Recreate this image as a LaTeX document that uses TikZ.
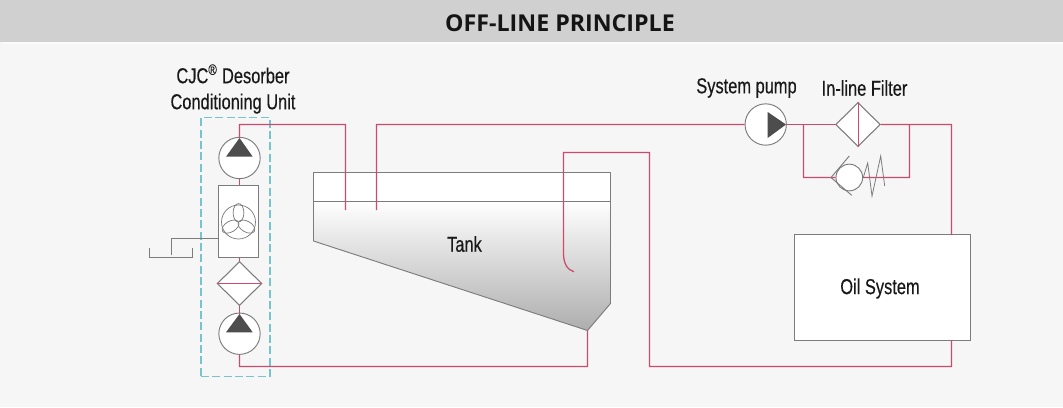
\documentclass[tikz,border=0pt]{standalone}
\usepackage{fontspec}
\usetikzlibrary{shapes.geometric,backgrounds}
\setmainfont{Liberation Sans}
\newfontfamily\labfont[FakeStretch=0.76,FakeBold=0.35]{Liberation Sans}
\newfontfamily\titlefont{Open Sans}
\definecolor{bgpanel}{HTML}{F6F6F6}
\definecolor{bghead}{HTML}{D0D0D0}
\definecolor{pipecol}{HTML}{CC4A6E}
\definecolor{edgecol}{HTML}{7C7C7C}
\definecolor{triangcol}{HTML}{4D4D4D}
\definecolor{dashcol}{HTML}{78C4CE}
\tikzset{
  pipe/.style={draw=pipecol,line width=0.95pt,rounded corners=0.1pt},
  thinpipe/.style={draw=pipecol,line width=0.6pt},
  edge/.style={draw=edgecol,line width=0.7pt},
  pumpbody/.style={circle,draw=edgecol,line width=0.7pt,fill=white,minimum size=31pt,inner sep=0pt},
  filterbody/.style={diamond,aspect=1,draw=edgecol,line width=0.8pt,fill=white,minimum width=33.5pt,minimum height=33pt,inner sep=0pt},
  valvebody/.style={circle,draw=edgecol,line width=0.7pt,fill=white,minimum size=20pt,inner sep=0pt},
  unitbox/.style={rectangle,draw=edgecol,line width=0.75pt,fill=white,inner sep=0pt},
  lab/.style={font=\labfont\fontsize{16.2}{19.5}\selectfont,text=black!90,align=center,inner sep=0pt},
  tri/.style={fill=triangcol,draw=none}
}
\begin{document}
\begin{tikzpicture}[x=0.75pt,y=-0.75pt]
\useasboundingbox (0,0) rectangle (1063,407);
\fill[bgpanel] (0,0) rectangle (1063,407);
\fill[bghead] (0,0) rectangle (1063,41.5);
\fill[white,opacity=.6] (2,42) rectangle (1063,44);
\node[inner sep=0pt,font=\titlefont\bfseries\fontsize{17.4}{20}\selectfont,text=black!92] (title) at (560,23) {OFF-LINE PRINCIPLE};

% CJC unit frame
\node[draw=dashcol,line width=0.9pt,dash pattern=on 6pt off 2.5pt,rectangle,minimum width=51.7pt,minimum height=193.7pt,inner sep=0pt] (frame) at (235.5,247) {};
\node[lab] (cjclabel) at (233,89) {CJC\textsuperscript{\textregistered} Desorber\\Conditioning Unit};

% tank
\fill[white] (313.5,172.5) rectangle (610.5,201);
\shade[top color=white,bottom color=black!32,shading angle=0] (313.5,201) -- (610.5,201) -- (610.5,303.5) -- (587.5,330.5) -- (313.5,241) -- cycle;
\draw[edge,line join=round] (313.5,172.5) -- (610.5,172.5) -- (610.5,303.5) -- (587.5,330.5) -- (313.5,241) -- cycle;
\draw[edge,line width=0.55pt] (313.5,201.5) -- (610.5,201.5);
\coordinate (tankOut) at (587.5,330.5);
\node[lab] (tanklabel) at (464.5,244) {Tank};

% components
\node[pumpbody] (pumpA) at (239.5,158) {};
\node[unitbox,minimum width=29.7pt,minimum height=53.7pt] (fanbox) at (238.5,221.5) {};
\node[filterbody] (filterA) at (239.5,283.5) {};
\node[pumpbody] (pumpB) at (239.5,333.7) {};
\node[pumpbody] (pumpS) at (765.7,124.5) {};
\node[filterbody] (filterS) at (858,124.5) {};
\node[valvebody] (valve) at (849.3,177.5) {};
\node[unitbox,minimum width=131.3pt,minimum height=78.8pt] (oil) at (882.5,287.5) {};
\node[lab] (oillabel) at (880,288.5) {Oil System};
\node[lab] (spumplabel) at (746.5,88) {System pump};
\node[lab] (filterlabel) at (864.5,88) {In-line Filter};

% pump triangles
\fill[tri] (239.5,138) -- (252.7,156.7) -- (226,156.7) -- cycle;
\fill[tri] (239.5,314) -- (252.7,332.3) -- (226,332.3) -- cycle;
\fill[tri] (786,124.5) -- (767.7,112) -- (767.7,138) -- cycle;

% fan
\coordinate (fanC) at (238.5,222);
\draw[edge,line width=0.55pt] (fanC) circle (17);
\foreach \a in {90,210,330}{
  \draw[edge,line width=0.55pt,rotate around={\a:(fanC)}] (fanC) ++(9.2,0) ellipse (9.2 and 5.4);
}

% waste tray
\coordinate (trayL) at (149.5,248.3);
\coordinate (trayBL) at (149.5,257.5);
\coordinate (trayBR) at (192.5,257.5);
\coordinate (trayR) at (192.5,248.3);
\coordinate (drainEnd) at (171.5,255);
\draw[edge] (trayL) -- (trayBL) -- (trayBR) -- (trayR);
\draw[edge] (fanbox.west |- 0,238.5) -| (drainEnd);

% pipes
\coordinate (retA) at (345.5,210);
\coordinate (retACorner) at (345.5,124.5);
\coordinate (inB) at (376.5,210);
\coordinate (inBCorner) at (376.5,124.5);
\coordinate (sysCorner) at (951.5,124.5);
\coordinate (oilIn) at (951.5,235);
\coordinate (oilOut) at (951.5,340);
\coordinate (botCorner) at (951.5,366.5);
\coordinate (ret1) at (649.5,366.5);
\coordinate (ret2) at (649.5,152.5);
\coordinate (ret3) at (563.5,152.5);
\coordinate (ret4) at (563.5,253);
\coordinate (retEnd) at (574,271.7);
\coordinate (lowRun) at (587.5,366.5);
\coordinate (byL) at (803.5,124.5);
\coordinate (byLb) at (803.5,177.5);
\coordinate (byR) at (909.5,124.5);
\coordinate (byRb) at (909.5,177.5);
\coordinate (fanTop) at (pumpA.south |- fanbox.north);
\coordinate (fanBot) at (pumpA.south |- fanbox.south);
\coordinate (pumpBtip) at (239.5,314);

\draw[pipe] (239.5,138) |- (retACorner) -- (retA);
\draw[pipe] (inB) -- (inBCorner) -- (pumpS.west);
\draw[pipe] (pumpS.east) .. controls (pumpS.east) and (filterS.west) .. (filterS.west);
\draw[pipe] (filterS.east) -- (sysCorner) -- (oilIn);
\draw[pipe] (oilOut) -- (botCorner) -- (ret1) -- (ret2) -- (ret3) -- (ret4) .. controls (563.5,263) and (567,270) .. (retEnd);
\draw[pipe] (pumpB.south) |- (lowRun) -- (tankOut);
\draw[pipe] (pumpA.south) .. controls (pumpA.south) and (fanTop) .. (fanTop);
\draw[pipe] (fanBot) .. controls (fanBot) and (filterA.north) .. (filterA.north);
\draw[pipe] (filterA.south) .. controls (filterA.south) and (pumpBtip) .. (pumpBtip);
\draw[pipe] (byL) -- (byLb) -- (valve.west);
\draw[pipe] (valve.east) -- (byRb) -- (byR);
\draw[thinpipe] (filterA.west) -- (filterA.east);
\draw[thinpipe] (filterS.north) -- (filterS.south);

% valve seat and spring
\draw[edge] (849.3,156) -- (831,177.5) -- (851.7,195.3);
\draw[edge,line width=0.6pt] (863.3,177.5) -- (867.7,163) -- (872,196) -- (880.7,156) -- (884.7,186);
\end{tikzpicture}
\end{document}
